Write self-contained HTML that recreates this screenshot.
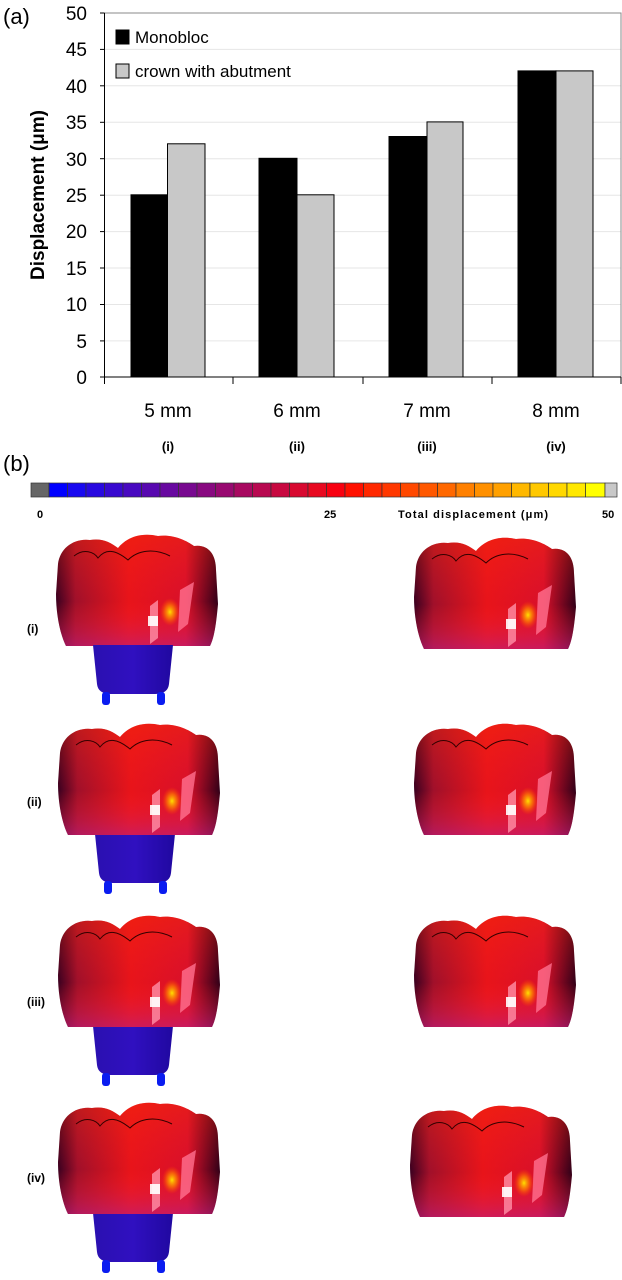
<!DOCTYPE html>
<html><head><meta charset="utf-8"><style>
html,body{margin:0;padding:0;background:#fff;}
svg{display:block;}
text{font-family:"Liberation Sans",Arial,sans-serif;}
</style></head><body>
<svg width="622" height="1280" viewBox="0 0 622 1280" xmlns="http://www.w3.org/2000/svg">
<defs>
<linearGradient id="ch" x1="0" x2="1" y1="0" y2="0">
<stop offset="0" stop-color="#3a0020"/><stop offset="0.12" stop-color="#a0102a"/><stop offset="0.45" stop-color="#e8141a"/><stop offset="0.8" stop-color="#d8102a"/><stop offset="1" stop-color="#300018"/>
</linearGradient>
<linearGradient id="cv" x1="0" x2="0" y1="0" y2="1">
<stop offset="0" stop-color="#ff3000" stop-opacity="0.35"/><stop offset="0.6" stop-color="#ff2020" stop-opacity="0"/><stop offset="1" stop-color="#c02080" stop-opacity="0.6"/>
</linearGradient>
<linearGradient id="ab" x1="0" x2="1">
<stop offset="0" stop-color="#2a10b0"/><stop offset="0.5" stop-color="#3010c0"/><stop offset="1" stop-color="#2008a0"/>
</linearGradient>
<radialGradient id="hot"><stop offset="0" stop-color="#ffe000"/><stop offset="0.5" stop-color="#ff8000" stop-opacity="0.7"/><stop offset="1" stop-color="#ff4000" stop-opacity="0"/></radialGradient>
<g id="crown">
<path d="M4,30 C6,14 20,4 36,6 C48,4 56,8 64,14 C72,4 86,-2 104,2 C118,0 132,6 140,12 C154,10 162,20 162,36 L164,70 C162,92 160,104 156,112 L12,112 C6,100 2,80 2,60 Z" fill="url(#ch)"/>
<path d="M4,30 C6,14 20,4 36,6 C48,4 56,8 64,14 C72,4 86,-2 104,2 C118,0 132,6 140,12 C154,10 162,20 162,36 L164,70 C162,92 160,104 156,112 L12,112 C6,100 2,80 2,60 Z" fill="url(#cv)"/>
<path d="M20,22 C30,14 40,18 44,24 C52,14 62,16 74,26 C84,16 100,14 116,22" fill="none" stroke="#300" stroke-width="1"/>
<polygon points="96,72 104,66 104,104 96,110" fill="#ff90a8" opacity="0.8"/>
<polygon points="126,56 140,48 134,90 124,98" fill="#ff7090" opacity="0.8"/>
<rect x="94" y="82" width="10" height="10" fill="#fff" opacity="0.9"/>
<ellipse cx="116" cy="78" rx="10" ry="14" fill="url(#hot)"/>
</g>
<g id="abut">
<path d="M37,111 L117,111 L113,150 C112,158 106,160 98,160 L56,160 C48,160 42,158 41,150 Z" fill="url(#ab)"/>
<rect x="46" y="158" width="8" height="13" rx="3" fill="#0a1cf0"/>
<rect x="101" y="158" width="8" height="13" rx="3" fill="#0a1cf0"/>
</g>
</defs>

<!-- chart (a) -->
<text x="3" y="24" font-size="22">(a)</text>
<g stroke="#e6e6e6" stroke-width="1">
<line x1="104.5" x2="621" y1="49.4" y2="49.4"/><line x1="104.5" x2="621" y1="85.8" y2="85.8"/>
<line x1="104.5" x2="621" y1="122.3" y2="122.3"/><line x1="104.5" x2="621" y1="158.7" y2="158.7"/>
<line x1="104.5" x2="621" y1="195.2" y2="195.2"/><line x1="104.5" x2="621" y1="231.6" y2="231.6"/>
<line x1="104.5" x2="621" y1="268" y2="268"/><line x1="104.5" x2="621" y1="304.5" y2="304.5"/>
<line x1="104.5" x2="621" y1="340.9" y2="340.9"/>
</g>
<rect x="104.5" y="13" width="516.5" height="364" fill="none" stroke="#888" stroke-width="1"/>
<line x1="104.5" x2="104.5" y1="13" y2="377" stroke="#000"/>
<line x1="104.5" x2="621" y1="377" y2="377" stroke="#000"/>
<g stroke="#000" stroke-width="1">
<line x1="100" x2="104.5" y1="13" y2="13"/><line x1="100" x2="104.5" y1="49.4" y2="49.4"/><line x1="100" x2="104.5" y1="85.8" y2="85.8"/><line x1="100" x2="104.5" y1="122.3" y2="122.3"/><line x1="100" x2="104.5" y1="158.7" y2="158.7"/><line x1="100" x2="104.5" y1="195.2" y2="195.2"/><line x1="100" x2="104.5" y1="231.6" y2="231.6"/><line x1="100" x2="104.5" y1="268" y2="268"/><line x1="100" x2="104.5" y1="304.5" y2="304.5"/><line x1="100" x2="104.5" y1="340.9" y2="340.9"/><line x1="100" x2="104.5" y1="377" y2="377"/>
<line x1="104.5" x2="104.5" y1="377" y2="384"/><line x1="233" x2="233" y1="377" y2="384"/><line x1="363" x2="363" y1="377" y2="384"/><line x1="492" x2="492" y1="377" y2="384"/><line x1="621" x2="621" y1="377" y2="384"/>
</g>
<g font-size="19" text-anchor="end">
<text x="87" y="20">50</text><text x="87" y="56">45</text><text x="87" y="93">40</text><text x="87" y="129">35</text><text x="87" y="166">30</text><text x="87" y="202">25</text><text x="87" y="238">20</text><text x="87" y="275">15</text><text x="87" y="311">10</text><text x="87" y="348">5</text><text x="87" y="384">0</text>
</g>
<text transform="translate(44,195) rotate(-90)" font-size="19" font-weight="bold" text-anchor="middle">Displacement (μm)</text>
<g stroke="#000" stroke-width="1">
<rect x="131" y="194.8" width="36.5" height="182.2" fill="#000"/>
<rect x="167.5" y="143.8" width="37.5" height="233.2" fill="#c8c8c8"/>
<rect x="259" y="158.3" width="38" height="218.7" fill="#000"/>
<rect x="297" y="194.8" width="37" height="182.2" fill="#c8c8c8"/>
<rect x="389" y="136.5" width="38" height="240.5" fill="#000"/>
<rect x="427" y="121.9" width="36" height="255.1" fill="#c8c8c8"/>
<rect x="518" y="70.9" width="38" height="306.1" fill="#000"/>
<rect x="556" y="70.9" width="37" height="306.1" fill="#c8c8c8"/>
<rect x="116" y="30" width="13" height="14" fill="#000"/>
<rect x="116" y="64" width="13" height="14" fill="#c8c8c8"/>
</g>
<text x="135" y="43" font-size="17">Monobloc</text>
<text x="135" y="77" font-size="17">crown with abutment</text>
<g font-size="19" text-anchor="middle">
<text x="168" y="417">5 mm</text><text x="297" y="417">6 mm</text><text x="427" y="417">7 mm</text><text x="556" y="417">8 mm</text>
</g>
<g font-size="13" font-weight="bold" text-anchor="middle">
<text x="168" y="451">(i)</text><text x="297" y="451">(ii)</text><text x="427" y="451">(iii)</text><text x="556" y="451">(iv)</text>
</g>

<!-- (b) -->
<text x="3" y="471" font-size="22">(b)</text>
<g stroke="#333" stroke-width="0.7">
<rect x="31" y="483" width="18" height="14" fill="#666"/>
<rect x="49" y="483" width="18.5" height="14" fill="#0000ff"/><rect x="67.5" y="483" width="18.5" height="14" fill="#1808f0"/><rect x="86" y="483" width="18.5" height="14" fill="#2808e0"/><rect x="104.5" y="483" width="18.5" height="14" fill="#3808d0"/><rect x="123" y="483" width="18.5" height="14" fill="#4808c0"/><rect x="141.5" y="483" width="18.5" height="14" fill="#5808b0"/><rect x="160" y="483" width="18.5" height="14" fill="#6808a0"/><rect x="178.5" y="483" width="18.5" height="14" fill="#780890"/><rect x="197" y="483" width="18.5" height="14" fill="#880880"/><rect x="215.5" y="483" width="18.5" height="14" fill="#980870"/><rect x="234" y="483" width="18.5" height="14" fill="#a80860"/><rect x="252.5" y="483" width="18.5" height="14" fill="#b80850"/><rect x="271" y="483" width="18.5" height="14" fill="#c80840"/><rect x="289.5" y="483" width="18.5" height="14" fill="#d80830"/><rect x="308" y="483" width="18.5" height="14" fill="#e80820"/><rect x="326.5" y="483" width="18.5" height="14" fill="#f80010"/><rect x="345" y="483" width="18.5" height="14" fill="#ff1000"/><rect x="363.5" y="483" width="18.5" height="14" fill="#ff2800"/><rect x="382" y="483" width="18.5" height="14" fill="#ff3800"/><rect x="400.5" y="483" width="18.5" height="14" fill="#ff4800"/><rect x="419" y="483" width="18.5" height="14" fill="#ff5800"/><rect x="437.5" y="483" width="18.5" height="14" fill="#ff6800"/><rect x="456" y="483" width="18.5" height="14" fill="#ff8000"/><rect x="474.5" y="483" width="18.5" height="14" fill="#ff9000"/><rect x="493" y="483" width="18.5" height="14" fill="#ffa000"/><rect x="511.5" y="483" width="18.5" height="14" fill="#ffb800"/><rect x="530" y="483" width="18.5" height="14" fill="#ffc800"/><rect x="548.5" y="483" width="18.5" height="14" fill="#ffd800"/><rect x="567" y="483" width="18.5" height="14" fill="#ffe800"/><rect x="585.5" y="483" width="19.5" height="14" fill="#ffff00"/>
<rect x="605" y="483" width="12" height="14" fill="#c8c8c8"/>
</g>
<g font-size="11" font-weight="bold">
<text x="37" y="518">0</text><text x="324" y="518">25</text><text x="398" y="518" textLength="150">Total displacement (μm)</text><text x="602" y="518">50</text>
</g>
<g font-size="12" font-weight="bold">
<text x="27" y="633">(i)</text><text x="27" y="806">(ii)</text><text x="27" y="1006">(iii)</text><text x="27" y="1182">(iv)</text>
</g>
<use href="#crown" x="54" y="534"/><use href="#abut" x="56" y="534"/><use href="#crown" x="412" y="537"/>
<use href="#abut" x="58" y="723"/><use href="#crown" x="56" y="723"/><use href="#crown" x="412" y="723"/>
<use href="#abut" x="56" y="915"/><use href="#crown" x="56" y="915"/><use href="#crown" x="412" y="915"/>
<use href="#abut" x="56" y="1102"/><use href="#crown" x="56" y="1102"/><use href="#crown" x="408" y="1105"/>
</svg>
</body></html>
